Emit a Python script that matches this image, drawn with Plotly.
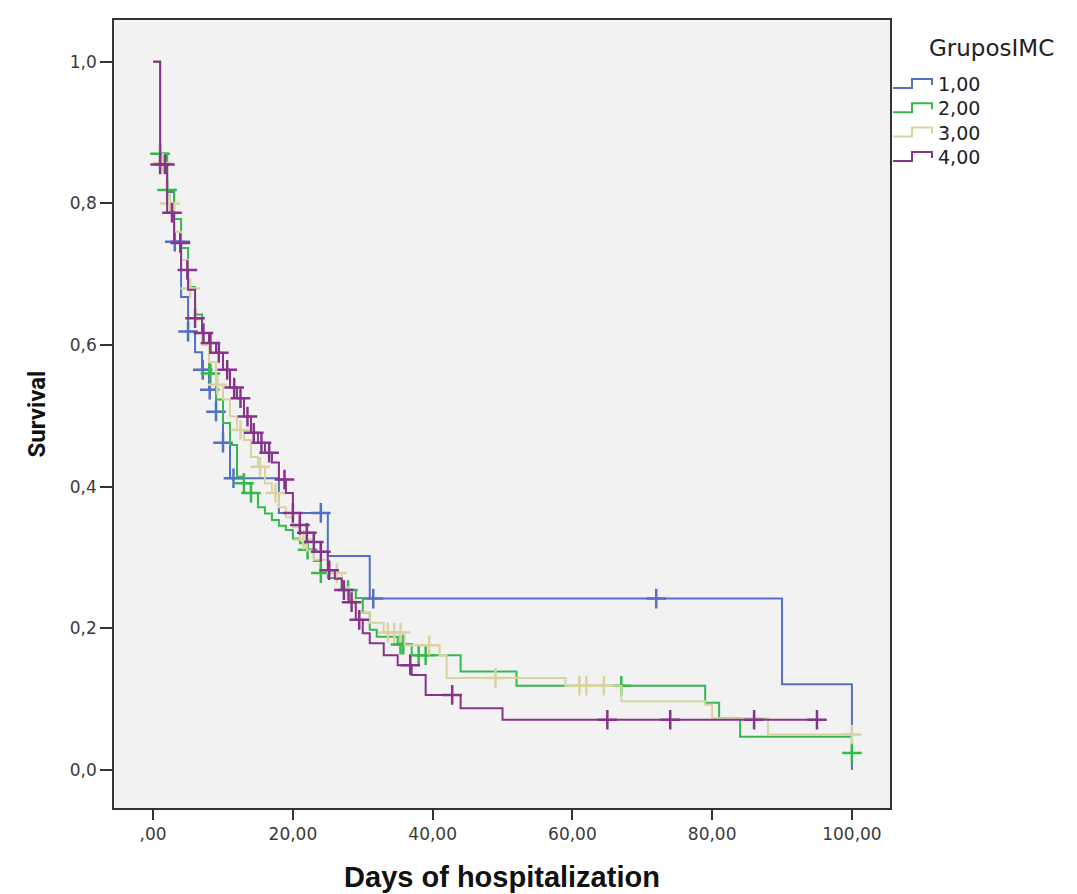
import plotly.graph_objects as go
import bisect

# ---------------- data ----------------
groups = ["1,00", "2,00", "3,00", "4,00"]
colors = ["#5470c2", "#36b94c", "#d9d3a2", "#86348b"]

# group 1
g1_times = [0, 1, 2, 3, 4, 5, 6, 7, 8, 9, 10, 11, 18, 25, 31, 90, 100]
g1_surv = [1.0, 0.870, 0.816, 0.746, 0.668, 0.619, 0.590, 0.565, 0.537, 0.506, 0.462, 0.412,
           0.363, 0.302, 0.242, 0.121, 0.0]
g1_cens = [3.1, 3.9, 5.0, 7.1, 8.1, 9.0, 10.0, 11.5, 24.0, 31.5, 72.0]

# group 2
g2_times = [0, 1, 2, 3, 4, 5, 6, 7, 8, 9, 10, 11, 12, 13, 14, 15, 16, 17, 18, 19, 20, 21,
            22, 23, 24, 25, 27, 29, 30, 31, 32, 35, 37, 44, 52, 79, 81, 84, 100]
g2_surv = [1.0, 0.870, 0.819, 0.778, 0.737, 0.682, 0.643, 0.600, 0.560, 0.523, 0.490, 0.459,
           0.414, 0.405, 0.391, 0.371, 0.362, 0.353, 0.345, 0.339, 0.327, 0.320, 0.311, 0.295,
           0.278, 0.271, 0.254, 0.243, 0.222, 0.198, 0.188, 0.177, 0.162, 0.139, 0.119, 0.095,
           0.073, 0.047, 0.024]
g2_cens = [1.0, 2.0, 8.2, 13.0, 14.0, 22.1, 24.0, 27.9, 35.4, 35.8, 38.0, 39.0, 67.0, 100.0]

# group 3
g3_times = [0, 1, 2, 3, 4, 5, 6, 7, 8, 9, 10, 11, 12, 13, 14, 15, 16, 17, 18, 19, 20, 21,
            22, 23, 25, 27, 28, 29, 31, 33, 36, 41, 42, 59, 67, 79, 80, 88]
g3_surv = [1.0, 0.857, 0.800, 0.760, 0.720, 0.680, 0.636, 0.600, 0.576, 0.544, 0.523, 0.499,
           0.480, 0.466, 0.442, 0.428, 0.405, 0.391, 0.371, 0.357, 0.343, 0.325, 0.310, 0.297,
           0.278, 0.258, 0.240, 0.222, 0.208, 0.194, 0.176, 0.162, 0.130, 0.119, 0.097, 0.092,
           0.073, 0.050]
g3_cens = [1.4, 2.4, 5.3, 9.2, 12.5, 15.3, 17.5, 21.5, 26.3, 33.6, 34.5, 35.4, 39.5, 49.0,
           61.0, 62.0, 64.5, 100.0]

# group 4
g4_times = [0, 1, 2, 3, 4, 5, 6, 7, 8, 9, 10, 11, 12, 13, 14, 15, 16, 17, 18, 19, 20, 21,
            22, 23, 24, 25, 26, 27, 28, 29, 30, 31, 33, 35, 37, 39, 44, 50]
g4_surv = [1.0, 0.855, 0.787, 0.744, 0.706, 0.678, 0.638, 0.617, 0.603, 0.589, 0.565, 0.540,
           0.525, 0.499, 0.476, 0.462, 0.448, 0.434, 0.410, 0.391, 0.363, 0.346, 0.335, 0.322,
           0.308, 0.282, 0.270, 0.254, 0.237, 0.212, 0.193, 0.179, 0.162, 0.148, 0.134, 0.106,
           0.087, 0.071]
g4_cens = [1.0, 1.7, 2.7, 3.9, 4.9, 6.0, 7.2, 8.2, 9.4, 10.6, 11.6, 12.5, 13.5, 14.4, 15.5,
           16.6, 18.8, 20.0, 21.0, 22.0, 23.0, 24.0, 25.2, 27.3, 28.4, 29.5, 36.8, 42.8,
           65.0, 74.0, 86.0, 95.0]

series = [(g1_times, g1_surv, g1_cens), (g2_times, g2_surv, g2_cens),
          (g3_times, g3_surv, g3_cens), (g4_times, g4_surv, g4_cens)]

x_tickvals = [0, 20, 40, 60, 80, 100]
x_ticktext = [",00", "20,00", "40,00", "60,00", "80,00", "100,00"]
y_tickvals = [0.0, 0.2, 0.4, 0.6, 0.8, 1.0]
y_ticktext = ["0,0", "0,2", "0,4", "0,6", "0,8", "1,0"]
legend_title = "GruposIMC"


def surv_at(times, surv, t):
    i = bisect.bisect_right(times, t) - 1
    return surv[max(i, 0)]


# ---------------- layout geometry (figure pixels) ----------------
W, H = 1069, 886
ML, MR, MT, MB = 106, 187, 12, 86
PW, PH = W - ML - MR, H - MT - MB


def px(xp):
    return (xp - ML) / PW


def py(yp):
    return (H - MB - yp) / PH


fig = go.Figure()
for name, col, (tt, ss, cc) in zip(groups, colors, series):
    xs = list(tt)
    ys = list(ss)
    last_c = max(cc) if cc else tt[-1]
    if last_c > xs[-1]:
        xs.append(last_c)
        ys.append(ys[-1])
    fig.add_trace(go.Scatter(x=xs, y=ys, mode="lines", name=name, showlegend=False,
                             line=dict(color=col, width=2, shape="hv")))
    fig.add_trace(go.Scatter(x=cc, y=[surv_at(tt, ss, c) for c in cc], mode="markers",
                             showlegend=False, hoverinfo="skip",
                             marker=dict(symbol="cross-thin", size=14,
                                         line=dict(color=col, width=2.5))))

# manual legend (step-shaped icons like the original)
shapes = []
annotations = []
annotations.append(dict(text=legend_title, xref="paper", yref="paper", x=px(919), y=py(40),
                        xanchor="left", yanchor="middle", showarrow=False,
                        font=dict(family="DejaVu Sans", size=23, color="#222222")))
for k, (name, col) in enumerate(zip(groups, colors)):
    yc = 76 + 24.3 * k
    path = "M {} {} L {} {} L {} {} L {} {} L {} {}".format(
        px(885), py(yc + 4), px(904), py(yc + 4), px(904), py(yc - 5),
        px(924), py(yc - 5), px(924), py(yc + 1))
    shapes.append(dict(type="path", path=path, xref="paper", yref="paper",
                       line=dict(color=col, width=2)))
    annotations.append(dict(text=name, xref="paper", yref="paper", x=px(928), y=py(yc),
                            xanchor="left", yanchor="middle", showarrow=False,
                            font=dict(family="DejaVu Sans", size=19, color="#222222")))

fig.update_layout(
    width=W, height=H,
    margin=dict(l=ML, r=MR, t=MT, b=MB, autoexpand=False),
    paper_bgcolor="white",
    plot_bgcolor="#f2f2f2",
    font=dict(family="DejaVu Sans", size=17, color="#3a3a3a"),
    showlegend=False,
    shapes=shapes,
    annotations=annotations,
)
fig.update_xaxes(range=[-5.6, 105.45], tickvals=x_tickvals, ticktext=x_ticktext,
                 automargin=False,
                 showgrid=False, zeroline=False, showline=True, mirror=True,
                 linecolor="#333333", linewidth=1.5, ticks="outside", ticklen=10,
                 tickcolor="#333333", tickwidth=1.5,
                 title=dict(text="Days of hospitalization", standoff=24,
                            font=dict(family="Liberation Sans", size=29,
                                      color="#111111", weight="bold")))
fig.update_yaxes(range=[-0.0537, 1.059], tickvals=y_tickvals, ticktext=y_ticktext,
                 automargin=False,
                 showgrid=False, zeroline=False, showline=True, mirror=True,
                 linecolor="#333333", linewidth=1.5, ticks="outside", ticklen=12,
                 tickcolor="#333333", tickwidth=1.5,
                 title=dict(text="Survival", standoff=17,
                            font=dict(family="Roboto", size=24,
                                      color="#111111", weight="bold")))

fig.write_html("out.html")
